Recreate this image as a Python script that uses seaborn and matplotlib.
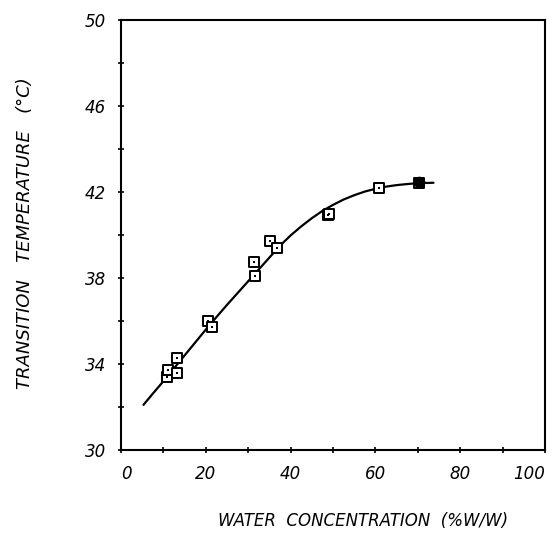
import numpy as np
import pandas as pd
import matplotlib
matplotlib.use("Agg")
import matplotlib.pyplot as plt
import seaborn as sns

# measured points (open squares)
water_pts = [10.8, 11.2, 13.1, 13.1, 20.6, 21.5, 31.4, 31.6, 35.1, 36.9, 48.9, 49.1, 60.9, 70.3]
temp_pts = [33.4, 33.7, 34.26, 33.6, 36.0, 35.7, 38.76, 38.1, 39.7, 39.4, 40.93, 40.98, 42.17, 42.43]

# filled point at the end of the curve
water_filled = [70.3]
temp_filled = [42.45]

# fitted curve
water_fit = [5.3, 7.5, 10, 12.5, 15, 17.5, 20, 22.5, 25, 27.5, 30, 32.5, 35, 37.5, 40,
             42.5, 45, 47.5, 50, 52.5, 55, 57.5, 60, 62.5, 65, 67.5, 70, 73.7]
temp_fit = [32.1, 32.62, 33.2, 33.8, 34.4, 35.0, 35.6, 36.18, 36.75, 37.3, 37.85, 38.4, 38.95, 39.5, 39.98,
            40.4, 40.78, 41.12, 41.4, 41.65, 41.85, 42.02, 42.15, 42.25, 42.32, 42.37, 42.41, 42.43]

x_ticks = [0, 20, 40, 60, 80, 100]
y_ticks = [30, 34, 38, 42, 46, 50]

sns.set_style("ticks")
plt.rcParams['font.family'] = ['DejaVu Sans']

fig = plt.figure(figsize=(5.56, 5.49), dpi=100)
ax = fig.add_axes([121 / 556, 1 - 450 / 549, 424 / 556, 430 / 549])

fit = pd.DataFrame({"water": water_fit, "temp": temp_fit})
sns.lineplot(data=fit, x="water", y="temp", ax=ax, color="black", linewidth=1.6, sort=False)

pts = pd.DataFrame({"water": water_pts, "temp": temp_pts})
sns.scatterplot(data=pts, x="water", y="temp", ax=ax, marker="s", s=52,
                facecolor="white", edgecolor="black", linewidth=1.4, zorder=3)
sns.scatterplot(data=pts, x="water", y="temp", ax=ax, marker="s", s=3,
                color="black", linewidth=0, zorder=4)
filled = pd.DataFrame({"water": water_filled, "temp": temp_filled})
sns.scatterplot(data=filled, x="water", y="temp", ax=ax, marker="o", s=70,
                color="black", linewidth=0, zorder=5)

ax.set_xlim(0, 100)
ax.set_ylim(30, 50)
ax.set_xticks(x_ticks)
ax.set_yticks(y_ticks)
ax.set_xticks(np.arange(10, 100, 20), minor=True)
ax.set_yticks([32, 36, 40, 44, 48], minor=True)
ax.tick_params(which="both", direction="inout", length=5, width=1.2, color="black",
               labelcolor="black")
ax.tick_params(axis="x", pad=8)
ax.tick_params(axis="y", pad=8)
for lab in ax.get_xticklabels() + ax.get_yticklabels():
    lab.set_fontstyle("italic")
    lab.set_fontsize(12)
xlabs = ax.get_xticklabels()
xlabs[0].set_horizontalalignment("left")
xlabs[-1].set_horizontalalignment("right")
for sp in ax.spines.values():
    sp.set_visible(True)
    sp.set_linewidth(1.5)
    sp.set_color("black")
ax.set_xlabel("")
ax.set_ylabel("")

fig.text(25 / 556, 1 - 233 / 549, "TRANSITION   TEMPERATURE   (°C)", rotation=90,
         ha="center", va="center", fontsize=13, fontstyle="italic", color="black")
fig.text(363 / 556, 1 - 521 / 549, "WATER  CONCENTRATION  (%W/W)",
         ha="center", va="center", fontsize=12, fontstyle="italic", color="black")

fig.savefig("out.png", dpi=100)
